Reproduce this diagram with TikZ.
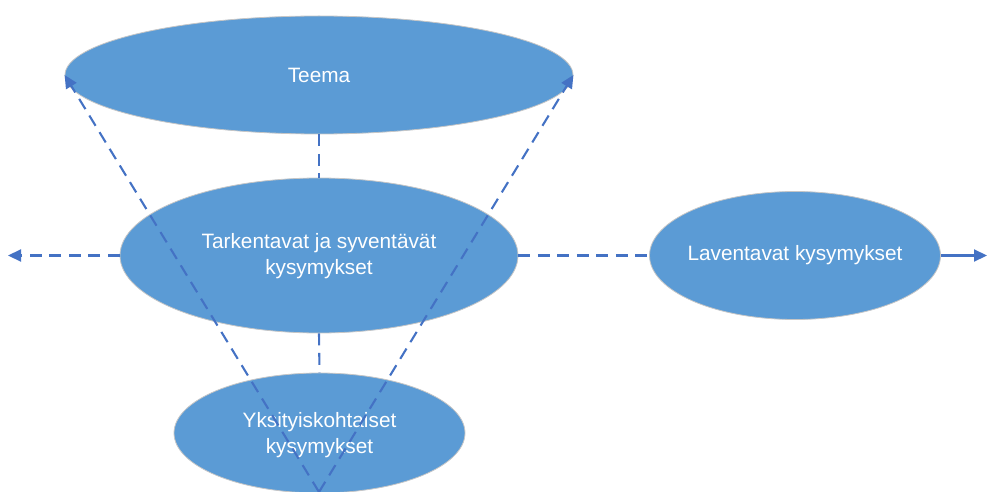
\documentclass[tikz,border=0pt]{standalone}
\usepackage{fontspec}
\setmainfont{Liberation Sans}
\usetikzlibrary{shapes.geometric,arrows.meta}
\definecolor{bubblefill}{HTML}{5B9BD5}
\definecolor{linkblue}{HTML}{4472C4}
\begin{document}
\begin{tikzpicture}[x=1pt,y=-1pt,
  bubble/.style={ellipse, fill=bubblefill, draw=gray!45, line width=0.8pt, inner sep=0pt},
  caption/.style={text=white, align=center, inner sep=0pt, font=\fontsize{20.8}{25.5}\selectfont},
  link/.style={draw=linkblue, line width=2.1pt, dash pattern=on 12pt off 7.5pt},
  solidlink/.style={draw=linkblue, line width=2.1pt},
  tip/.style={-{Triangle[length=13pt,width=12pt,fill=linkblue]}}]
\useasboundingbox (0,0) rectangle (987,492);

% ellipses
\node[bubble, minimum width=508pt, minimum height=118pt] (teema) at (319,75) {};
\node[bubble, minimum width=398pt, minimum height=155pt] (tark) at (319,255.5) {};
\node[bubble, minimum width=291pt, minimum height=128pt] (lav) at (795,255.5) {};
\node[bubble, minimum width=291pt, minimum height=120pt] (yksi) at (319.5,433) {};

% captions
\node[caption] (teemaText) at (teema.center) {Teema};
\node[caption] (tarkText) at (319,256) {Tarkentavat ja syventävät\\kysymykset};
\node[caption] (lavText) at (795,255) {Laventavat kysymykset};
\node[caption] (yksiText) at (319.5,435) {Yksityiskohtaiset\\kysymykset};

% free ends
\coordinate (apex) at (319,492);
\coordinate (leftEnd) at (8,255.5);
\coordinate (rightEnd) at (987,255.5);

% connectors
\draw[link] (teema.south) -- (tark.north);
\draw[link] (tark.south) -- (yksi.north);
\draw[link, tip] (apex) -- (teema.west);
\draw[link, tip] (apex) -- (teema.east);
\draw[link, tip] (tark.west) -- (leftEnd);
\draw[link] (tark.east) -- (lav.west);
\draw[solidlink, tip] (lav.east) -- (rightEnd);
\end{tikzpicture}
\end{document}
